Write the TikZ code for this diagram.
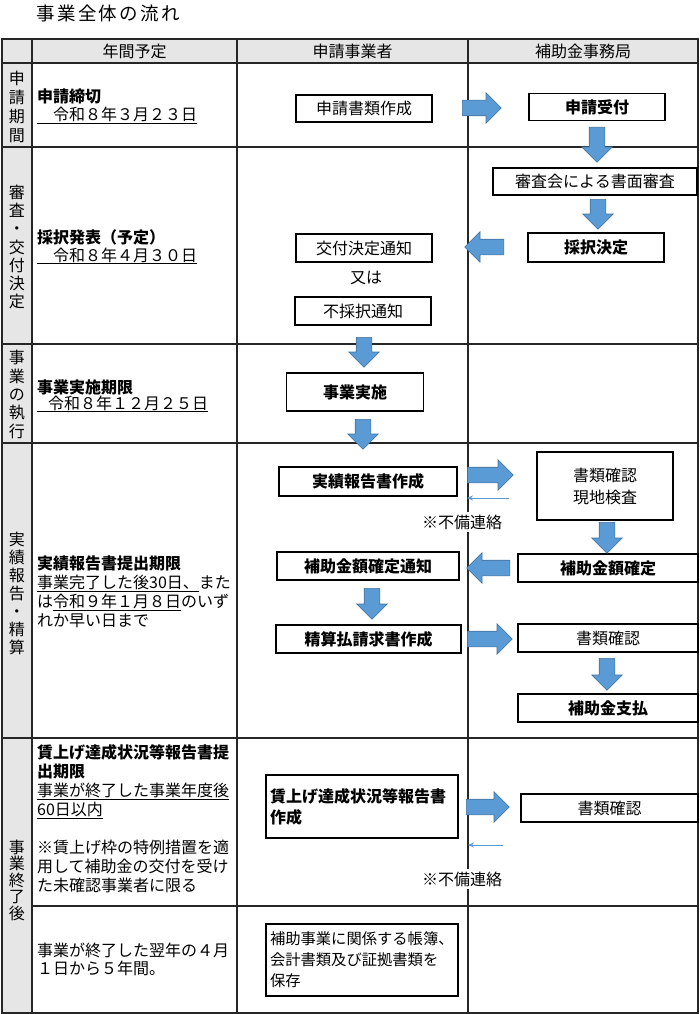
\documentclass[tikz,border=0pt]{standalone}
\usepackage{fontspec}
\setmainfont{Noto Sans CJK JP}
\usetikzlibrary{shapes.arrows,arrows.meta}
\definecolor{arrblue}{RGB}{91,155,213}
\definecolor{arredge}{RGB}{65,113,156}
\definecolor{cellgray}{RGB}{230,230,230}
\newcommand\fsz{\fontsize{16pt}{19pt}\selectfont}
\begin{document}
\begin{tikzpicture}[x=1pt,y=-1pt,
  grid/.style={line width=1.4pt, draw=black!85},
  box/.style={draw=black, line width=1.1pt, fill=white, inner sep=0pt, font=\fsz, align=center},
  bbox/.style={box, font=\fsz\bfseries},
  barrow/.style={single arrow, draw=arredge, line width=0.6pt, fill=arrblue, inner xsep=0pt, inner ysep=7.5pt,
     single arrow head extend=7.5pt, single arrow tip angle=90, anchor=tail},
  thinarr/.style={draw=arrblue, line width=1pt, -{Stealth[length=6pt,width=5pt]}},
  txt/.style={inner sep=0pt, align=left, anchor=base west},
  vtxt/.style={inner sep=0pt, align=center},
  note/.style={fill=white, inner sep=3pt, font=\fsz}
]
\useasboundingbox (0,0) rectangle (700,1014);
% title
\node[inner sep=0pt, anchor=west, font=\fontsize{18.5pt}{18pt}\selectfont\addfontfeatures{LetterSpace=13}] (title) at (36,13) {事業全体の流れ};
% fills
\fill[cellgray] (2,39) rectangle (698,63);
\fill[cellgray] (2,63) rectangle (32,1013);
% grid
\draw[grid] (2,39) rectangle (698,1013);
\draw[grid] (32,39) -- (32,1013);
\draw[grid] (237,39) -- (237,1013);
\draw[grid] (468,39) -- (468,1013);
\foreach \yy in {63,147,344,443,738} {\draw[grid] (2,\yy) -- (698,\yy);}
\draw[grid] (32,906) -- (698,906);
% headers
\node[font=\fsz, inner sep=0pt] (h1) at (134.5,51) {年間予定};
\node[font=\fsz, inner sep=0pt] (h2) at (352.5,51) {申請事業者};
\node[font=\fsz, inner sep=0pt] (h3) at (583,51) {補助金事務局};
% vertical labels
\node[vtxt, font=\fontsize{16pt}{19pt}\selectfont] (v1) at (17,106.5) {申\\請\\期\\間};
\node[vtxt, font=\fontsize{16pt}{18.3pt}\selectfont] (v2) at (17,247) {審\\査\\・\\交\\付\\決\\定};
\node[vtxt, font=\fontsize{16pt}{18.3pt}\selectfont] (v3) at (17,394.5) {事\\業\\の\\執\\行};
\node[vtxt, font=\fontsize{16pt}{18pt}\selectfont] (v4) at (17,593) {実\\績\\報\\告\\・\\精\\算};
\node[vtxt, font=\fontsize{16pt}{16.5pt}\selectfont] (v5) at (17,880) {事\\業\\終\\了\\後};
% column 1 texts (anchor = baseline of last line)
\node[txt, font=\fontsize{16pt}{18pt}\selectfont] (l1) at (37,121) {{\bfseries 申請締切}\\\underline{\hspace*{16pt}令和８年３月２３日}};
\node[txt, font=\fontsize{16pt}{18pt}\selectfont] (l2) at (37,261) {{\bfseries 採択発表（予定）}\\\underline{\hspace*{16pt}令和８年４月３０日}};
\node[txt, font=\fontsize{16pt}{16pt}\selectfont] (l3) at (37,409) {{\bfseries 事業実施期限}\\\underline{\hspace*{11pt}令和８年１２月２５日}};
\node[txt, font=\fontsize{16pt}{19pt}\selectfont] (l4) at (37,626) {{\bfseries 実績報告書提出期限}\\\underline{事業完了した後30日、}また\\は\underline{令和９年１月８日}のいず\\れか早い日まで};
\node[txt, font=\fontsize{16pt}{19pt}\selectfont] (l5) at (37,891) {{\bfseries 賃上げ達成状況等報告書提}\\{\bfseries 出期限}\\\underline{事業が終了した事業年度後}\\\underline{60日以内}\\[19pt]※賃上げ枠の特例措置を適\\用して補助金の交付を受け\\た未確認事業者に限る};
\node[txt, font=\fontsize{16pt}{18pt}\selectfont] (l6) at (37,974) {事業が終了した翌年の４月\\１日から５年間。};
% boxes
\node[box, minimum width=136pt, minimum height=27pt] (b1) at (364,108.5) {申請書類作成};
\node[bbox, minimum width=136pt, minimum height=27pt] (b2) at (597,107) {申請受付};
\node[box, minimum width=204pt, minimum height=27pt] (b3) at (595,181.5) {審査会による書面審査};
\node[bbox, minimum width=136pt, minimum height=29pt] (b4) at (596,247.5) {採択決定};
\node[box, minimum width=136pt, minimum height=28pt] (b5) at (364,248) {交付決定通知};
\node[font=\fsz, inner sep=0pt] (or) at (366,278) {又は};
\node[box, minimum width=136pt, minimum height=28pt] (b6) at (363,311) {不採択通知};
\node[bbox, minimum width=137pt, minimum height=38pt] (b7) at (355,392) {事業実施};
\node[bbox, minimum width=178pt, minimum height=29pt] (b8) at (368,481.5) {実績報告書作成};
\node[box, minimum width=136pt, minimum height=68pt, font=\fontsize{16pt}{22pt}\selectfont] (b9) at (605,486) {書類確認\\現地検査};
\node[bbox, minimum width=180pt, minimum height=28pt] (b10) at (608,568) {補助金額確定};
\node[bbox, minimum width=182pt, minimum height=28pt] (b11) at (368,566) {補助金額確定通知};
\node[bbox, minimum width=185pt, minimum height=28pt] (b12) at (368.5,639) {精算払請求書作成};
\node[box, minimum width=180pt, minimum height=28pt] (b13) at (608,638) {書類確認};
\node[bbox, minimum width=180pt, minimum height=28pt] (b14) at (608,708) {補助金支払};
\node[box, text width=184pt, inner xsep=4pt, minimum height=63pt, align=left, font=\fontsize{16pt}{21pt}\selectfont\bfseries] (b15) at (362,806.5) {賃上げ達成状況等報告書\\作成};
\node[box, minimum width=177pt, minimum height=28pt] (b16) at (609.5,808) {書類確認};
\node[box, text width=184pt, inner xsep=4pt, minimum height=72pt, align=left, font=\fontsize{15.3pt}{21pt}\selectfont] (b17) at (362,960) {補助事業に関係する帳簿、\\会計書類及び証拠書類を\\保存};
% block arrows
\node[barrow, minimum height=39pt] (a1) at (462,108) {};
\node[barrow, minimum height=35pt, rotate=-90] (a2) at (597,127) {};
\node[barrow, minimum height=30pt, rotate=-90] (a3) at (598,199) {};
\node[barrow, minimum height=39pt, rotate=180] (a4) at (504,247) {};
\node[barrow, minimum height=30pt, rotate=-90] (a5) at (364,337) {};
\node[barrow, minimum height=30pt, rotate=-90] (a6) at (363,419) {};
\node[barrow, minimum height=46pt] (a7) at (467,475) {};
\node[barrow, minimum height=31pt, rotate=-90] (a8) at (607,522) {};
\node[barrow, minimum height=43pt, rotate=180] (a9) at (510,568) {};
\node[barrow, minimum height=31pt, rotate=-90] (a10) at (372,588) {};
\node[barrow, minimum height=45pt] (a11) at (467,639) {};
\node[barrow, minimum height=32pt, rotate=-90] (a12) at (607,658) {};
\node[barrow, minimum height=43pt] (a13) at (466,807) {};
% thin return arrows and notes
\coordinate (t1s) at (509,498);
\coordinate (t1e) at (467,498);
\draw[thinarr] (t1s) -- (t1e);
\node[note] (n1) at (462,522) {※不備連絡};
\coordinate (t2s) at (503,845);
\coordinate (t2e) at (468,845);
\draw[thinarr] (t2s) -- (t2e);
\node[note] (n2) at (462,879) {※不備連絡};
\end{tikzpicture}
\end{document}
